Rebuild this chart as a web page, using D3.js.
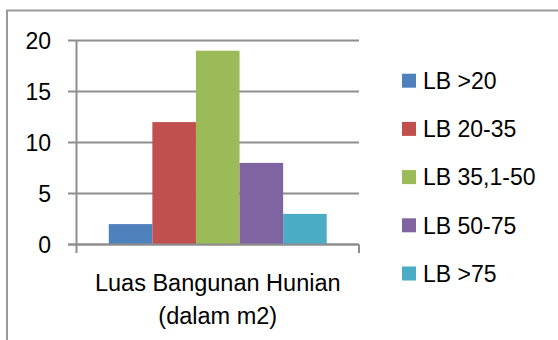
<!DOCTYPE html>
<html>
<head>
<meta charset="utf-8">
<script src="https://cdn.jsdelivr.net/npm/d3@7"></script>
<style>
  body { margin: 0; background: #fff; }
  svg text { font-family: "Liberation Sans", Arial, sans-serif; fill: #000; }
</style>
</head>
<body>
<div id="chart"></div>
<script>

var category = ["Luas Bangunan Hunian (dalam m2)"];
var categoryLines = ["Luas Bangunan Hunian", "(dalam m2)"];
var seriesNames = ["LB >20", "LB 20-35", "LB 35,1-50", "LB 50-75", "LB >75"];
var seriesValues = [2, 12, 19, 8, 3];
var seriesColors = ["#4f81bd", "#c0504d", "#9bbb59", "#8064a2", "#4bacc6"];
var yTicks = [0, 5, 10, 15, 20];

var width = 558, height = 340;

var svg = d3.select("#chart")
    .append("svg")
    .attr("width", width)
    .attr("height", height);

// outer chart border (runs off the right / bottom edge)
svg.append("rect")
    .attr("x", 7)
    .attr("y", 10.5)
    .attr("width", 600)
    .attr("height", 400)
    .attr("fill", "none")
    .attr("stroke", "#9a9a9a")
    .attr("stroke-width", 2);

var plotLeft = 76.5, plotRight = 359, plotTop = 40.5, plotBottom = 244.5;

var y = d3.scaleLinear().domain([0, 20]).range([plotBottom, plotTop]);

var x0 = d3.scaleBand()
    .domain(category)
    .range([plotLeft, plotRight])
    .padding(0.129);

var x1 = d3.scaleBand()
    .domain(seriesNames)
    .range([0, x0.bandwidth()]);

// gridlines + left ticks
svg.selectAll(".grid")
    .data(yTicks)
    .enter()
    .append("line")
        .attr("x1", plotLeft - 8.5)
        .attr("x2", plotRight)
        .attr("y1", function(d){ return y(d); })
        .attr("y2", function(d){ return y(d); })
        .attr("stroke", "#8e8e8e")
        .attr("stroke-width", 2);

svg.selectAll(".ylab")
    .data(yTicks)
    .enter()
    .append("text")
        .attr("x", 51)
        .attr("y", function(d){ return y(d); })
        .attr("dy", "0.36em")
        .attr("text-anchor", "end")
        .attr("font-size", 23)
        .text(function(d){ return d; });

// bars
svg.selectAll(".bar")
    .data(seriesValues)
    .enter()
    .append("rect")
        .attr("x", function(d,i){ return x0(category[0]) + x1(seriesNames[i]); })
        .attr("y", function(d){ return y(d); })
        .attr("width", x1.bandwidth())
        .attr("height", function(d){ return y(0) - y(d); })
        .attr("fill", function(d,i){ return seriesColors[i]; });

// axes lines
svg.append("line")
    .attr("x1", plotLeft).attr("x2", plotLeft)
    .attr("y1", plotTop).attr("y2", plotBottom + 8.5)
    .attr("stroke", "#8e8e8e").attr("stroke-width", 2);

svg.append("line")
    .attr("x1", plotLeft - 8.5).attr("x2", plotRight)
    .attr("y1", plotBottom).attr("y2", plotBottom)
    .attr("stroke", "#8e8e8e").attr("stroke-width", 2);

svg.append("line")
    .attr("x1", plotRight).attr("x2", plotRight)
    .attr("y1", plotBottom).attr("y2", plotBottom + 8.5)
    .attr("stroke", "#8e8e8e").attr("stroke-width", 2);

// category label
var cx = x0(category[0]) + x0.bandwidth() / 2;
svg.selectAll(".clab")
    .data(categoryLines)
    .enter()
    .append("text")
        .attr("x", cx)
        .attr("y", function(d,i){ return 291 + i * 32.5; })
        .attr("text-anchor", "middle")
        .attr("font-size", 23.5)
        .text(function(d){ return d; });

// legend
var legend = svg.selectAll(".legend")
    .data(seriesNames)
    .enter()
    .append("g")
        .attr("transform", function(d,i){ return "translate(402," + (80.7 + i * 48.2) + ")"; });

legend.append("rect")
    .attr("x", 0)
    .attr("y", -7)
    .attr("width", 14)
    .attr("height", 14)
    .attr("fill", function(d,i){ return seriesColors[i]; });

legend.append("text")
    .attr("x", 21)
    .attr("y", 0)
    .attr("dy", "0.36em")
    .attr("font-size", 23)
    .text(function(d){ return d; });

</script>
</body>
</html>
